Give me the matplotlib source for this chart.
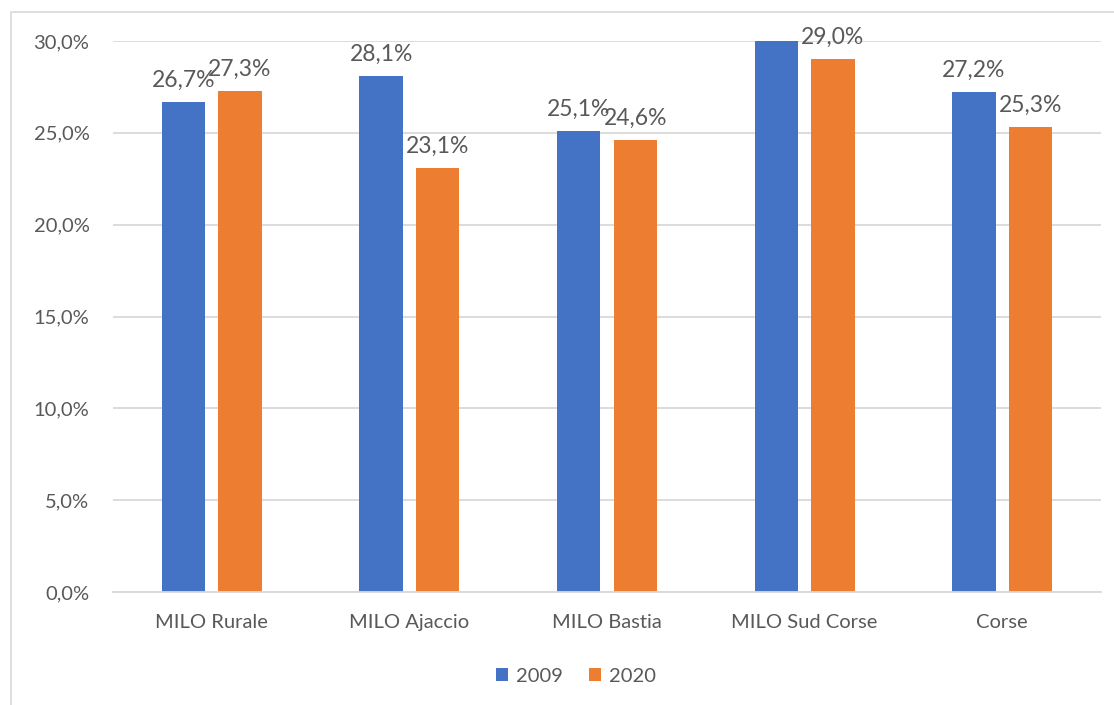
import numpy as np
import matplotlib.pyplot as plt
from matplotlib.patches import Rectangle

plt.rcParams['font.family'] = ['Lato', 'DejaVu Sans']

categories = ['MILO Rurale', 'MILO Ajaccio', 'MILO Bastia', 'MILO Sud Corse', 'Corse']
series_names = ['2009', '2020']
values_2009 = [26.7, 28.1, 25.1, 30.5, 27.2]
values_2020 = [27.3, 23.1, 24.6, 29.0, 25.3]
yticks = [0, 5, 10, 15, 20, 25, 30]

blue = '#4472c4'
orange = '#ed7d31'
grey_text = '#595959'
grid_col = '#d9d9d9'

W, H = 1114, 705
fig = plt.figure(figsize=(W / 100, H / 100), dpi=100)

# chart frame (runs off the right and bottom edges)
fig.patches.append(Rectangle((11 / W, -0.05), 1.2, 1 - 11.5 / H + 0.05,
                             transform=fig.transFigure, fill=False,
                             edgecolor='#d9d9d9', linewidth=1.2))

ax = fig.add_axes([113 / W, 1 - 592 / H, (1101 - 113) / W, (592 - 41) / H])
ax.set_xlim(-0.5, len(categories) - 0.5)
ax.set_ylim(0, 30)

x = np.arange(len(categories))
bw = 0.22
off = 0.143
b1 = ax.bar(x - off, values_2009, bw, color=blue, label=series_names[0], zorder=3)
b2 = ax.bar(x + off, values_2020, bw, color=orange, label=series_names[1], zorder=3)

for bars, vals in ((b1, values_2009), (b2, values_2020)):
    for rect, v in zip(bars, vals):
        if v > 30:
            continue  # label falls outside the plot area
        ax.annotate(f'{v:.1f}%'.replace('.', ','),
                    (rect.get_x() + rect.get_width() / 2, v),
                    xytext=(0, 8), textcoords='offset points',
                    ha='center', va='bottom', fontsize=16.5, color=grey_text,
                    annotation_clip=False)

ax.set_yticks(yticks)
ax.set_yticklabels([f'{t:.1f}%'.replace('.', ',') for t in yticks])
ax.set_xticks(x)
ax.set_xticklabels(categories)
ax.tick_params(axis='both', length=0, labelsize=14.5, colors=grey_text)
ax.tick_params(axis='y', pad=17)
ax.tick_params(axis='x', pad=16)
ax.yaxis.grid(True, color=grid_col, linewidth=1.3, zorder=0)
for s in ['top', 'right', 'left']:
    ax.spines[s].set_visible(False)
ax.spines['bottom'].set_color(grid_col)
ax.spines['bottom'].set_linewidth(1.3)
ax.spines['bottom'].set_zorder(4)

fig.legend(loc='center', bbox_to_anchor=(576 / W, 1 - 676 / H), ncol=2,
           frameon=False, fontsize=14.5, handlelength=0.6, handleheight=0.6,
           handletextpad=0.4, columnspacing=1.3, labelcolor=grey_text)

fig.savefig('out.png', dpi=100, facecolor='white')
